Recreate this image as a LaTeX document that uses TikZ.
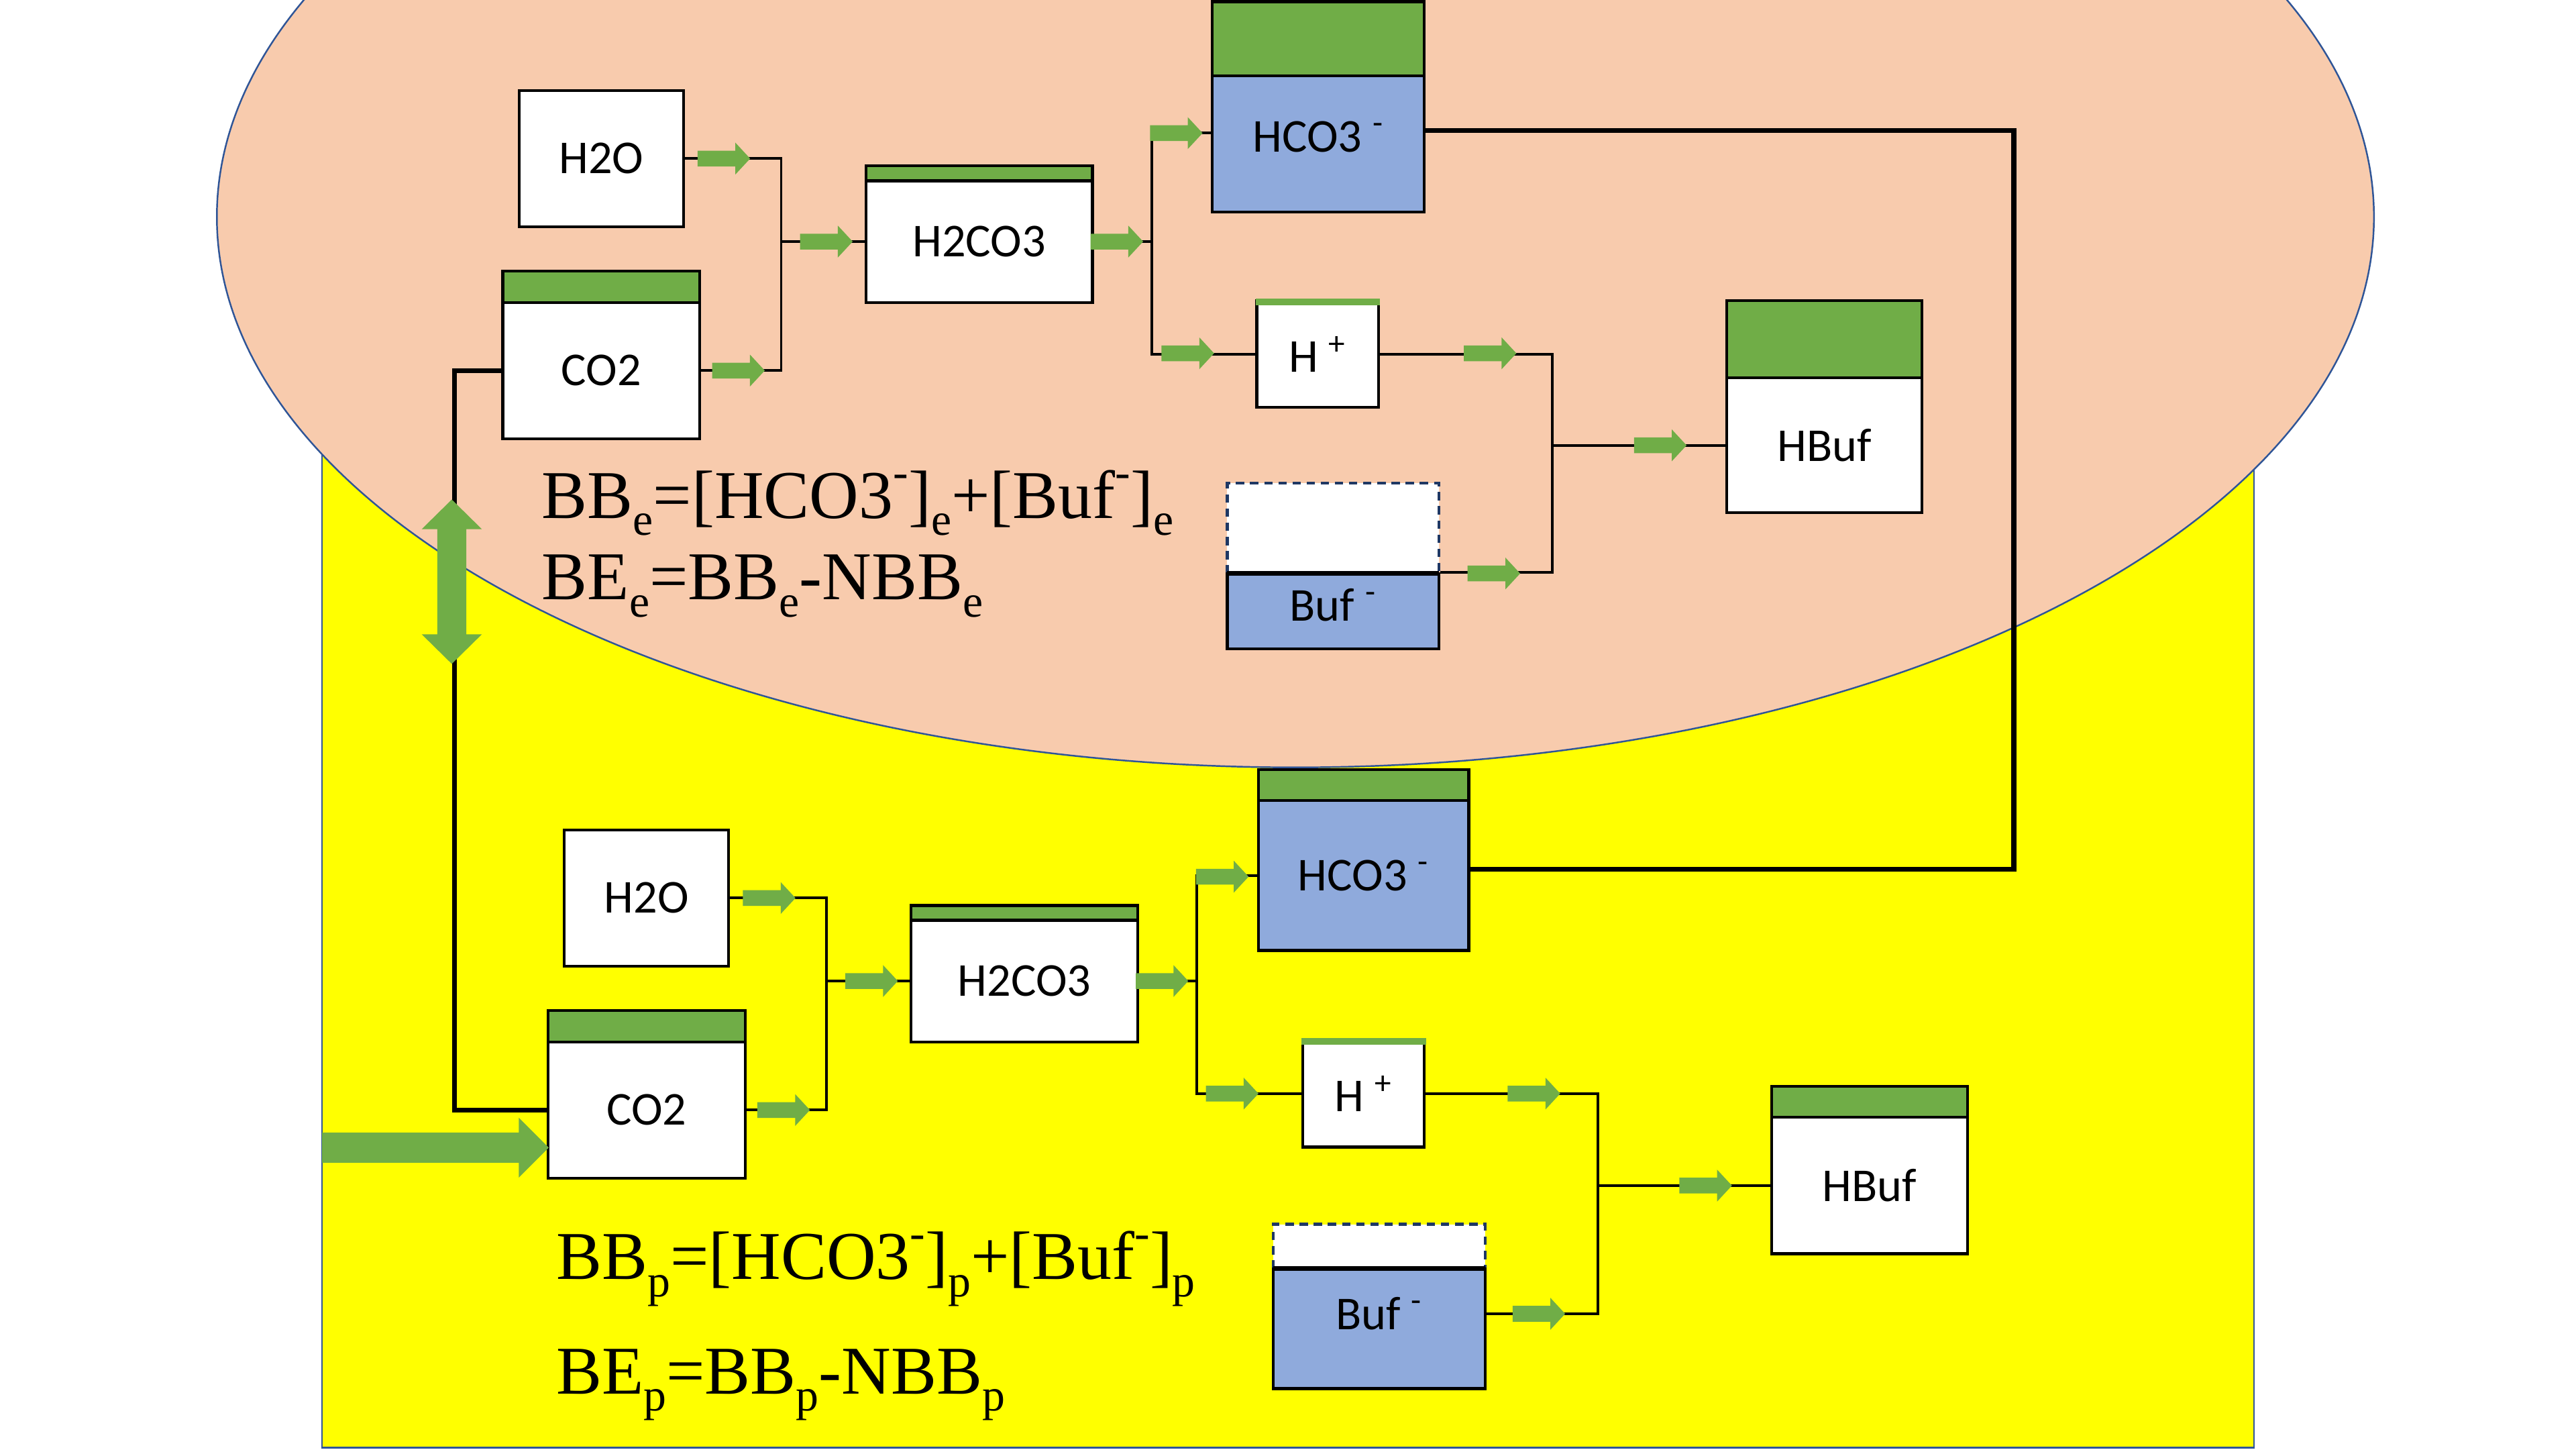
\documentclass[tikz,border=0pt]{standalone}
\usepackage{fontspec}
\setmainfont{Liberation Serif}
\newfontfamily\labfont{Carlito}
\definecolor{peach}{HTML}{F8CBAD}
\definecolor{yel}{HTML}{FFFF00}
\definecolor{grn}{HTML}{70AD47}
\definecolor{bluefill}{HTML}{8FAADC}
\definecolor{edgeblue}{HTML}{2F5597}
\definecolor{navy}{HTML}{1F3864}
\def\du{0.0244898cm}
\newcommand\sbs[1]{\raisebox{-0.25em}{\fontsize{19.3}{20}\selectfont #1}}
\newcommand\sps[1]{\raisebox{0.45em}{\fontsize{19.3}{20}\selectfont #1}}
\tikzset{
  box/.style={fill=white, inner sep=0pt, font=\labfont\fontsize{20}{24}\selectfont},
  bluebox/.style={box, fill=bluefill},
  outline/.style={draw=black, line width=1.2pt},
  band/.style={fill=grn},
  conn/.style={draw=black, line width=1.1pt},
  thickconn/.style={draw=black, line width=2pt},
  dashedge/.style={draw=navy, line width=1.2pt, dash pattern=on 3.5pt off 2.5pt},
  divider/.style={draw=black, line width=2pt},
  formula/.style={anchor=base west, inner sep=0pt, font=\fontsize{29}{34}\selectfont},
  garrow/.pic={\fill[grn] (-32,-4.8) -- (-9,-4.8) -- (-9,-9.7) -- (0,0) -- (-9,9.7) -- (-9,4.8) -- (-32,4.8) -- cycle;},
}
% #1 style, #2 name, #3 x1, #4 y1, #5 x2, #6 y2, #7 text
\newcommand\plainbox[7]{%
  \node[#1, minimum width={(#5-#3)*\du}, minimum height={(#6-#4)*\du}] (#2) at ({(#3+#5)/2},{(#4+#6)/2}) {#7};
}
% #1 style, #2 name, #3 x1, #4 ytop, #5 yband, #6 x2, #7 ybottom, #8 text
\newcommand\bandbox[8]{%
  \plainbox{#1}{#2}{#3}{#5}{#6}{#7}{#8}
  \fill[band] (#3,#4) rectangle (#6,#5);
  \draw[outline] (#3,#4) rectangle (#6,#7);
  \draw[outline] (#3,#5) -- (#6,#5);
}
\begin{document}
\begin{tikzpicture}[x=0.0244898cm, y=-0.0244898cm]
\useasboundingbox (0,0) rectangle (1568,882);
\clip (0,0) rectangle (1568,882);

% compartments
\draw[fill=yel, draw=edgeblue, line width=0.8pt] (196,200) rectangle (1372,881);
\draw[fill=peach, draw=edgeblue, line width=0.7pt] (788.5,132) ellipse [x radius=656.5, y radius=335];

% ---------- upper (erythrocyte) boxes ----------
\plainbox{box, outline}{h2o}{316}{55}{416}{138}{H2O}
\bandbox{box}{co2}{306}{165}{184}{426}{267}{CO2}
\bandbox{box}{h2co3}{527}{101}{110}{665}{184}{H2CO3}
\bandbox{bluebox, text depth=6.3pt}{hco3}{738}{1}{46}{867}{129}{HCO3 \textsuperscript{-}}
\plainbox{box, outline}{hp}{765}{183}{839}{248}{H \textsuperscript{+}}
\fill[grn] (764.3,181.8) rectangle (839.9,185.8);
\bandbox{box}{hbuf}{1051}{183}{230}{1170}{312}{HBuf}
\fill[white] (747,294) rectangle (876,349);
\draw[dashedge] (747,349) -- (747,294) -- (876,294) -- (876,349);
\plainbox{bluebox, outline, text depth=5.6pt}{buf}{747}{349}{876}{395}{Buf \textsuperscript{-}}
\draw[divider] (747,349) -- (876,349);

% ---------- lower (plasma) boxes ----------
\plainbox{box, outline}{h2op}{343.5}{505}{443.5}{588}{H2O}
\bandbox{box}{co2p}{333.5}{615}{634}{453.5}{717}{CO2}
\bandbox{box}{h2co3p}{554.5}{551}{560}{692.5}{634}{H2CO3}
\bandbox{bluebox}{hco3p}{766}{468.5}{487}{894}{578.4}{HCO3 \textsuperscript{-}}
\plainbox{box, outline}{hpp}{793}{633}{867}{698}{H \textsuperscript{+}}
\fill[grn] (792.3,631.8) rectangle (867.9,635.8);
\bandbox{box}{hbufp}{1078.5}{661}{680}{1197.6}{763}{HBuf}
\fill[white] (775,745) rectangle (904,772);
\draw[dashedge] (775,772) -- (775,745) -- (904,745) -- (904,772);
\plainbox{bluebox, outline, text depth=13pt}{bufp}{775}{772}{904}{845}{Buf \textsuperscript{-}}
\draw[divider] (775,772) -- (904,772);

% ---------- exchange connectors ----------
\coordinate (jr) at (1225.8,300);
\draw[thickconn] ([yshift=8*\du]hco3.east) -| (jr) |- ([yshift=3.7*\du]hco3p.east);
\coordinate (jl) at (276.7,450);
\draw[thickconn] (co2.west) -| (jl) |- (co2p.west);

% ---------- upper connectors ----------
\coordinate (ja) at (475.5,147);
\draw[conn] (h2o.east) -| (ja);
\draw[conn] (co2.east) -| (ja);
\draw[conn] (ja) -- (h2co3.west);
\coordinate (jb) at (701,147);
\draw[conn] (h2co3.east) -- (jb);
\draw[conn] (jb) |- ([yshift=6.5*\du]hco3.west);
\draw[conn] (jb) |- (hp.west);
\coordinate (jc) at (944.7,271);
\draw[conn] (hp.east) -| (jc);
\draw[conn] (buf.north east) -| (jc);
\draw[conn] (jc) -- (hbuf.west);

% ---------- lower connectors ----------
\coordinate (jap) at (503,597);
\draw[conn] (h2op.east) -| (jap);
\draw[conn] (co2p.east) -| (jap);
\draw[conn] (jap) -- (h2co3p.west);
\coordinate (jbp) at (728.3,597);
\draw[conn] (h2co3p.east) -- (jbp);
\draw[conn] (jbp) |- (hco3p.west);
\draw[conn] (jbp) |- (hpp.west);
\coordinate (jcp) at (972.5,721.5);
\draw[conn] (hpp.east) -| (jcp);
\draw[conn] ([yshift=9*\du]bufp.east) -| (jcp);
\draw[conn] (jcp) -- (hbufp.west);

% ---------- small flow arrows ----------
\foreach \p in {(456.6,96.5),(465.5,225.5),(519,147),(695.8,147),(732,81),(739,215),(923,215),(925.3,349),(1026.6,271),
                (484.2,546.5),(493,675.5),(546.5,597),(723.3,597),(760,533.5),(766,665.5),(949.7,665.5),(952.7,799.5),(1054.2,721.5)}
  \pic at \p {garrow};

% ---------- big arrows ----------
\fill[grn] (275,304) -- (293.3,322) -- (283.8,322) -- (283.8,386) -- (293.3,386) -- (275,404)
  -- (256.7,386) -- (266.2,386) -- (266.2,322) -- (256.7,322) -- cycle;
\coordinate (inflow) at (196,698.4);
\fill[grn] (inflow) ++(0,-9.2) -- (315.8,689.2) -- (315.8,680.2) -- (334,698.4) -- (315.8,716.6)
  -- (315.8,707.6) -- (196,707.6) -- cycle;

% ---------- formulas ----------
\node[formula] (fe1) at (329.6,315.4) {BB\sbs{e}=[HCO3\sps{-}]\sbs{e}+[Buf\sps{-}]\sbs{e}};
\node[formula] (fe2) at (329.6,365) {BE\sbs{e}=BB\sbs{e}-NBB\sbs{e}};
\node[formula] (fp1) at (338.3,778.6) {BB\sbs{p}=[HCO3\sps{-}]\sbs{p}+[Buf\sps{-}]\sbs{p}};
\node[formula] (fp2) at (338.3,848.3) {BE\sbs{p}=BB\sbs{p}-NBB\sbs{p}};
\end{tikzpicture}
\end{document}
